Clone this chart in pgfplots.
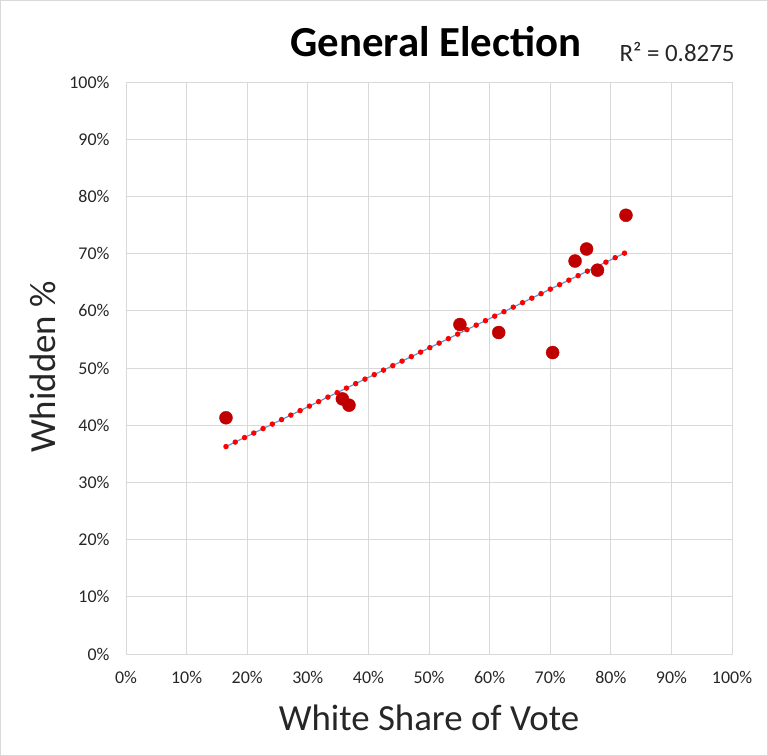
\documentclass[border=0pt]{standalone}
\usepackage{pgfplots}
\pgfplotsset{compat=1.18}
\usepackage{fontspec}
\setmainfont{Carlito}
\definecolor{gridc}{HTML}{D9D9D9}
\definecolor{ptc}{HTML}{C00000}
\definecolor{tlc}{HTML}{5B9BD5}
\begin{document}
\begin{tikzpicture}[x=1bp,y=1bp]
\draw[gridc, line width=0.75bp] (0.4,0.4) rectangle (767.6,755.6);
\begin{axis}[at={(126bp,102bp)}, anchor=south west, scale only axis,
  width=606bp, height=572bp,
  xmin=0, xmax=100, ymin=0, ymax=100,
  xtick={0,10,...,100}, ytick={0,10,...,100},
  /pgf/number format/assume math mode=true,
  xticklabel={\pgfmathprintnumber{\tick}\%},
  yticklabel={\pgfmathprintnumber{\tick}\%},
  grid=major, major grid style={gridc, line width=0.75bp},
  axis line style={gridc, line width=0.75bp},
  tick style={draw=none},
  ticklabel style={font=\fontsize{18}{20}\selectfont, text=black!85},
  xticklabel style={yshift=-14bp},
  yticklabel style={xshift=-13bp},
  clip=false]
\addplot[tlc, line width=1.2bp] coordinates {(16.5,36.26) (82.5,70.2)};
\addplot[red, line width=5.5bp, dash pattern=on 0bp off 10.3bp, line cap=round] coordinates {(16.5,36.26) (82.5,70.2)};
\addplot[only marks, mark=*, mark size=6.5bp, mark options={fill=ptc, draw=ptc}] coordinates {
(16.5,41.3) (35.7,44.6) (36.8,43.5) (55.1,57.6) (61.5,56.2) (70.4,52.7) (74.1,68.7) (76.0,70.8) (77.8,67.1) (82.5,76.7)};
\end{axis}
\node[font=\fontsize{43}{48}\selectfont\bfseries] at (436,714) {General Election};
\node[font=\fontsize{25}{30}\selectfont, text=black!85] at (677,704) {R² = 0.8275};
\node[font=\fontsize{37}{42}\selectfont, text=black!85] at (429,38) {White Share of Vote};
\node[font=\fontsize{37}{42}\selectfont, text=black!85, rotate=90] at (43,389) {Whidden \%};
\end{tikzpicture}
\end{document}
